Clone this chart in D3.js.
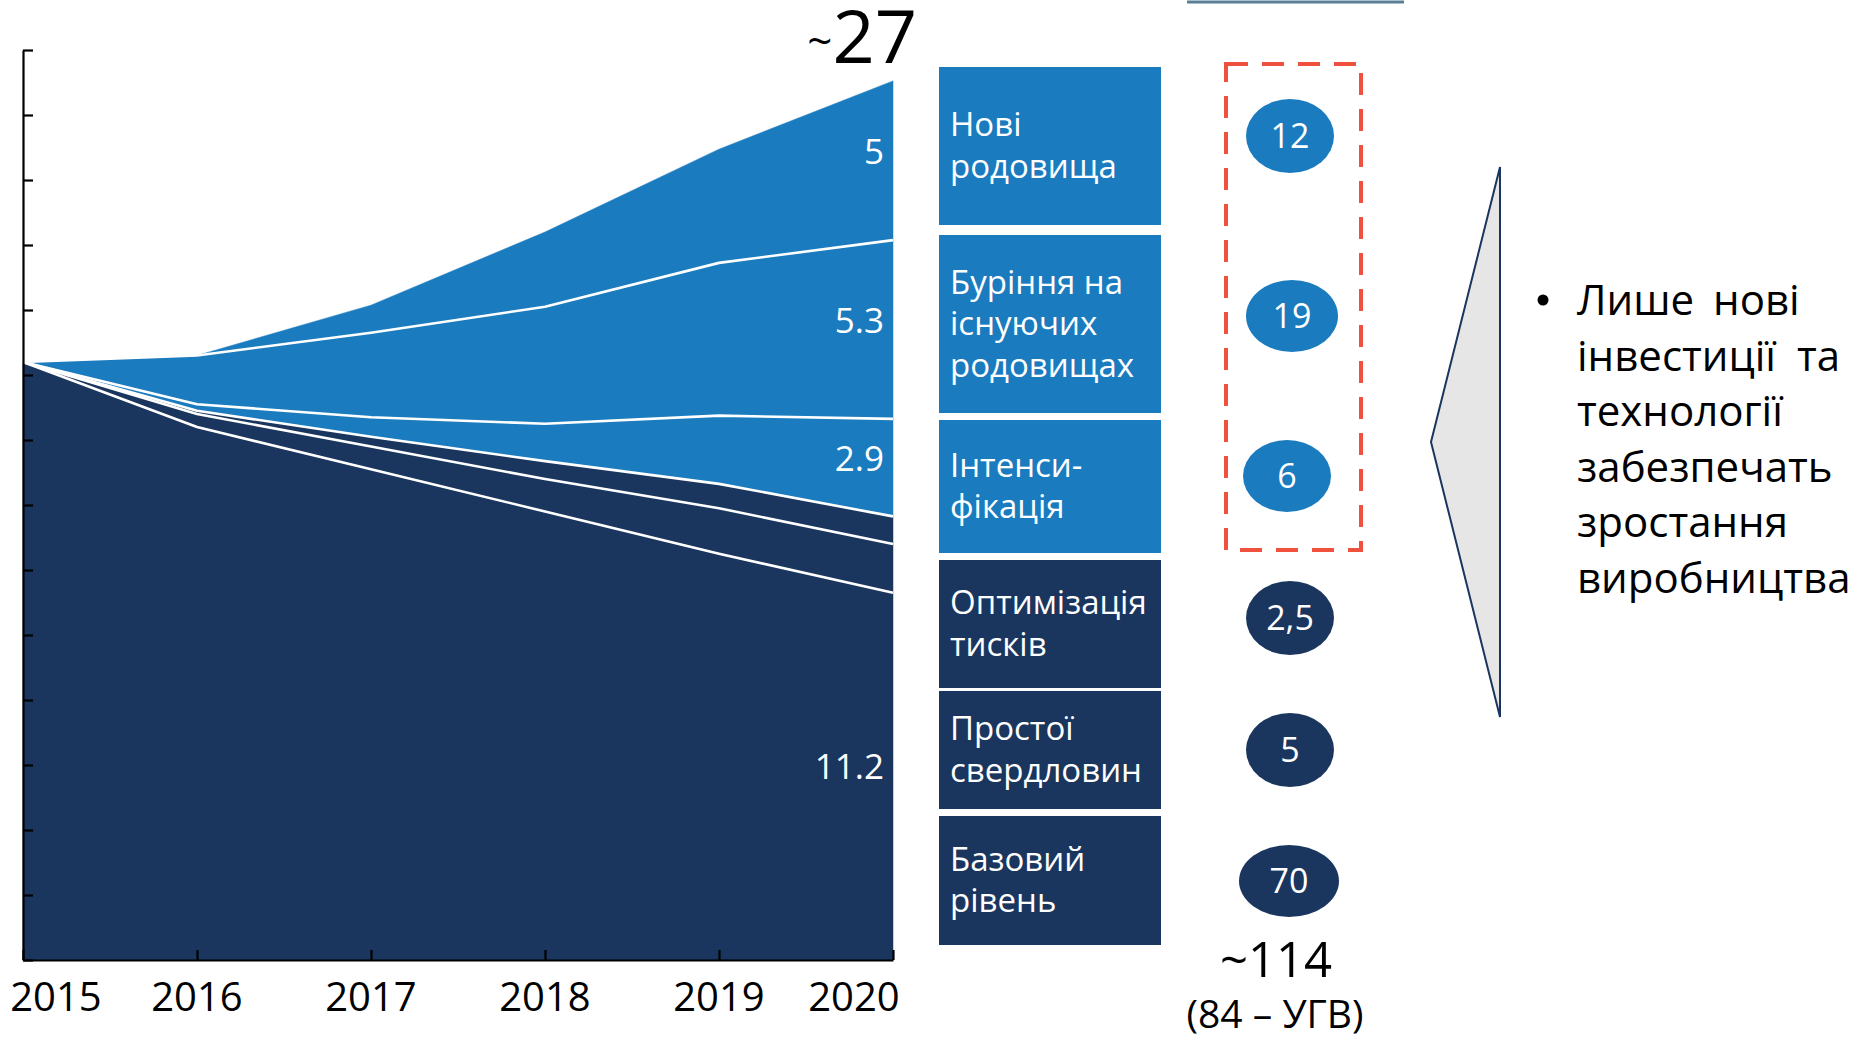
<!DOCTYPE html>
<html><head><meta charset="utf-8">
<script src="https://cdn.jsdelivr.net/npm/d3@7"></script>
<style>
html,body{margin:0;padding:0;background:#fff;}
svg{display:block;font-family:"Open Sans","DejaVu Sans",sans-serif;}
</style></head>
<body>
<svg id="chart" width="1860" height="1038"></svg>
<script>
// ---------- DATA ----------
const years = [2015, 2016, 2017, 2018, 2019, 2020];
const baseLevel        = [18.4, 16.4, 15.1, 13.8, 12.5, 11.3];
const wellDowntime     = [0, 0.4, 0.7, 1.0, 1.4, 1.5];
const pressureOpt      = [0, 0.1, 0.3, 0.55, 0.75, 0.85];
const intensification  = [0, 0.2, 0.6, 1.15, 2.1, 3.0];
const drillingExisting = [0, 1.5, 2.6, 3.6, 4.7, 5.5];
const newFields        = [0, 0, 0.85, 2.3, 3.5, 4.9];
const seriesKeys = ["base","downtime","pressure","intens","drilling","newf"];
const endLabels = ["11.2", "", "", "2.9", "5.3", "5"];
const totalLabel = "27";
const yTickValues = [0,2,4,6,8,10,12,14,16,18,20,22,24,26,28];

// legend (top to bottom)
const legendLines = [["Нові","родовища"],["Буріння на","існуючих","родовищах"],["Інтенси-","фікація"],["Оптимізація","тисків"],["Простої","свердловин"],["Базовий","рівень"]];
const legendKeys = ["newf","drilling","intens","pressure","downtime","base"];
const cumulativeValues = [12, 19, 6, 2.5, 5, 70];
const totalCumulative = "114";
const subNote = "(84 – УГВ)";
const bulletLines = ["Лише нові","інвестиції та","технології","забезпечать","зростання","виробництва"];

// ---------- STYLE / LAYOUT ----------
const LIGHT = "#1a7bbf", NAVY = "#1a365e";
const colorOf = {base:NAVY, downtime:NAVY, pressure:NAVY, intens:LIGHT, drilling:LIGHT, newf:LIGHT};
const boxY = [[67,225],[235,413],[420,553],[560,688],[691,809],[816,945]];
const circ = [[1290,136,44,37],[1292,316,46,36],[1287,476,44,36],[1290,618,44,37],[1290,750,44,37],[1289,881,50,36]];

const svg = d3.select("#chart");

const table = years.map((yr,i)=>({year:yr, base:baseLevel[i], downtime:wellDowntime[i], pressure:pressureOpt[i], intens:intensification[i], drilling:drillingExisting[i], newf:newFields[i]}));
const stacked = d3.stack().keys(seriesKeys)(table);

const x = d3.scaleLinear().domain([2015,2020]).range([23,893]);
const y = d3.scaleLinear().domain([0,28]).range([960,50]);

const area = d3.area().x(d=>x(d.data.year)).y0(d=>y(d[0])).y1(d=>y(d[1]));
svg.append("g").selectAll("path").data(stacked).join("path")
  .attr("d", area).attr("fill", d=>colorOf[d.key]).attr("stroke", d=>colorOf[d.key]).attr("stroke-width",0.5);

// white separator lines
const topLine = d3.line().x(d=>x(d.data.year)).y(d=>y(d[1]));
svg.append("g").selectAll("path").data(stacked.slice(0,5)).join("path")
  .attr("d", topLine).attr("fill","none").attr("stroke","#fff").attr("stroke-width",2.6).attr("stroke-linejoin","round");

// end labels
const last = years.length-1;
svg.append("g").selectAll("text").data(stacked.filter((s,i)=>endLabels[i])).join("text")
  .attr("x", 884).attr("y", d=>(y(d[last][0])+y(d[last][1]))/2 + 3)
  .attr("text-anchor","end").attr("fill","#fff").attr("font-size",35)
  .text(d=>endLabels[seriesKeys.indexOf(d.key)]);

// axes
const yAxis = d3.axisLeft(y).tickValues(yTickValues).tickSizeInner(-10).tickSizeOuter(0).tickFormat("");
const gy = svg.append("g").attr("transform",`translate(${x(2015)},0)`).call(yAxis);
const xAxis = d3.axisBottom(x).tickValues(years).tickSizeInner(-10).tickSizeOuter(0).tickFormat("");
const gx = svg.append("g").attr("transform",`translate(0,${y(0)})`).call(xAxis);
[gy,gx].forEach(g=>{ g.selectAll("path,line").attr("stroke","#000").attr("stroke-width",2.2); });

// year labels (clamped to fit)
svg.append("g").selectAll("text").data(years).join("text")
  .attr("x", d=>Math.max(56, Math.min(854, x(d)))).attr("y",1011)
  .attr("text-anchor","middle").attr("font-size",40).attr("fill","#000").text(d=>d);

// total label
const tl = svg.append("text").attr("x",917).attr("y",63).attr("text-anchor","end").attr("fill","#000");
tl.append("tspan").attr("font-size",44).attr("dy",-6).text("~");
tl.append("tspan").attr("font-size",74).attr("dy",6).text(totalLabel);

// legend boxes
const lg = svg.append("g");
legendKeys.forEach((k,i)=>{
  const [y0,y1] = boxY[i];
  lg.append("rect").attr("x",939).attr("y",y0).attr("width",222).attr("height",y1-y0).attr("fill",colorOf[k]);
  const lines = legendLines[i];
  const lh = 41.5;
  const mid = (y0+y1)/2;
  const firstBase = mid - (lines.length-1)*lh/2 + 11;
  lines.forEach((t,j)=>{
    lg.append("text").attr("x",950).attr("y",firstBase + j*lh).attr("font-size",33).attr("fill","#fff").text(t);
  });
  const [cx,cy,rx,ry] = circ[i];
  lg.append("ellipse").attr("cx",cx).attr("cy",cy).attr("rx",rx).attr("ry",ry).attr("fill",colorOf[k]);
  lg.append("text").attr("x",cx).attr("y",cy+12).attr("text-anchor","middle").attr("font-size",34).attr("fill","#fff")
    .text(String(cumulativeValues[i]).replace(".",","));
});

// red dashed frame
svg.append("rect").attr("x",1226).attr("y",64).attr("width",135).attr("height",486)
  .attr("fill","none").attr("stroke","#f0503e").attr("stroke-width",4).attr("stroke-dasharray","22 14");

// totals under circles
svg.append("text").attr("x",1276).attr("y",977).attr("text-anchor","middle").attr("font-size",49).attr("fill","#000").text("~"+totalCumulative);
svg.append("text").attr("x",1275).attr("y",1028).attr("text-anchor","middle").attr("font-size",39).attr("fill","#000").text(subNote);

// top rule
svg.append("line").attr("x1",1187).attr("x2",1404).attr("y1",2).attr("y2",2).attr("stroke","#5a7e98").attr("stroke-width",3);

// triangle
svg.append("path").attr("d","M1500,167 L1431,442 L1500,717 Z").attr("fill","#e6e6e6").attr("stroke",NAVY).attr("stroke-width",2);

// bullet text
svg.append("circle").attr("cx",1543).attr("cy",300).attr("r",5.5).attr("fill","#000");
const ws = [8,10,0,0,0,0];
bulletLines.forEach((t,i)=>{
  svg.append("text").attr("x",1577).attr("y",315+i*55.6).attr("font-size",42).attr("fill","#000")
    .attr("word-spacing",ws[i]).text(t);
});
</script>
</body></html>
